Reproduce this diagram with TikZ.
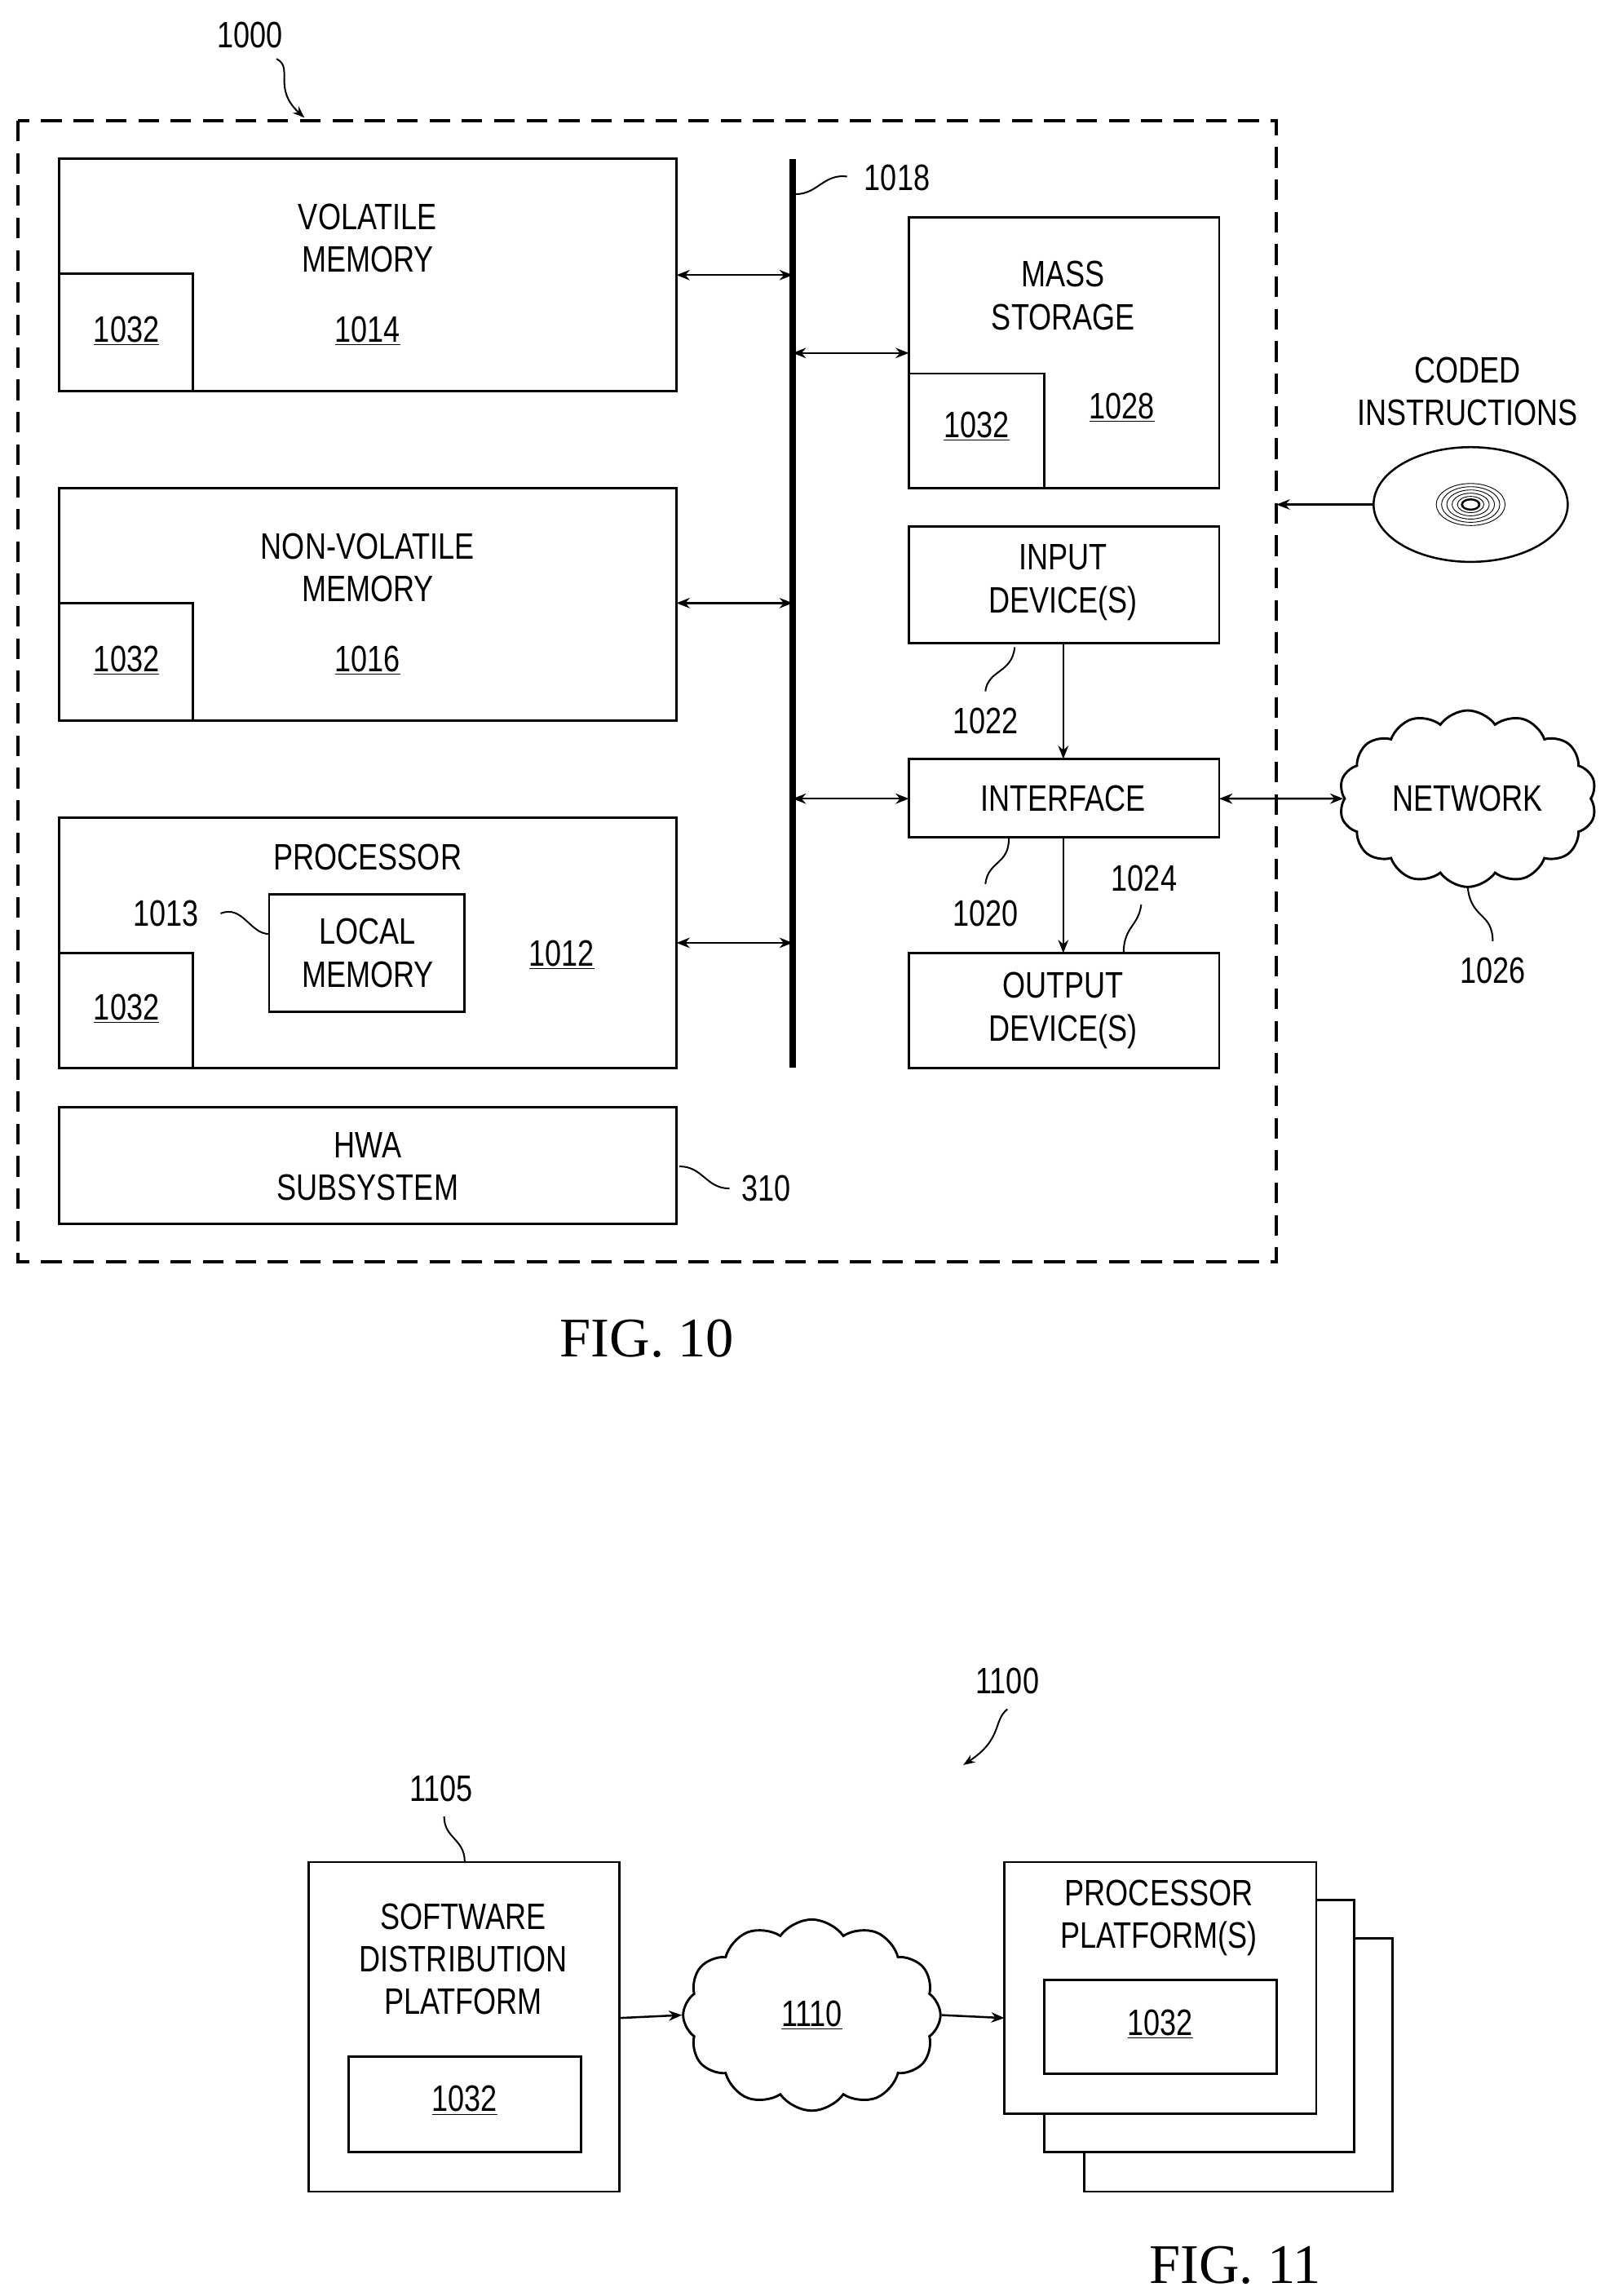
\documentclass[tikz,border=0pt]{standalone}
\usepackage{fontspec}
\setmainfont{Liberation Sans}[FakeStretch=0.8]
\newfontfamily\figfont{Liberation Serif}
\usetikzlibrary{shapes.symbols,arrows.meta}
\begin{document}
\begin{tikzpicture}[x=1pt,y=-1pt,
  box/.style={draw,line width=1.6pt},
  t/.style={font=\fontsize{25}{29}\selectfont,align=center,inner sep=0},
  dbl/.style={{Stealth[length=9pt,width=7pt]}-{Stealth[length=9pt,width=7pt]},line width=1.4pt},
  sgl/.style={-{Stealth[length=9pt,width=7pt]},line width=1.4pt},
  lead/.style={line width=1.1pt},
  fig/.style={font=\figfont\fontsize{38}{40}\selectfont}]
\useasboundingbox (0,0) rectangle (1100,1561);
% FIG 10
\draw[line width=2.2pt,dash pattern=on 14pt off 8pt] (12,82) rectangle (868,858);
\node[t] (l1000) at (170,24) {1000};
\coordinate (a1000) at (207,80);
\draw[lead,-{Stealth[length=8pt]}] (188,40) .. controls (200,46) and (185,60) .. (a1000);
% volatile
\draw[box] (40,108) rectangle (460,266);
\draw[box] (40,186) rectangle (131,266);
\node[t] (vm) at (250,162) {VOLATILE\\MEMORY};
\node[t] at (250,225) {\underline{1014}};
\node[t] at (86,225) {\underline{1032}};
% nonvolatile
\draw[box] (40,332) rectangle (460,490);
\draw[box] (40,410) rectangle (131,490);
\node[t] (nvm) at (250,386) {NON-VOLATILE\\MEMORY};
\node[t] at (250,449) {\underline{1016}};
\node[t] at (86,449) {\underline{1032}};
% processor
\draw[box] (40,556) rectangle (460,726);
\draw[box] (40,648) rectangle (131,726);
\node[t] (proc) at (250,583) {PROCESSOR};
\draw[box] (183,608) rectangle (316,688);
\node[t] (lm) at (250,648) {LOCAL\\MEMORY};
\node[t] (l1013) at (113,621) {1013};
\draw[lead] (150,621) .. controls (165,615) and (170,635) .. (183,635);
\node[t] at (382,649) {\underline{1012}};
\node[t] at (86,686) {\underline{1032}};
% HWA
\draw[box] (40,753) rectangle (460,832);
\node[t] (hwa) at (250,793) {HWA\\SUBSYSTEM};
\node[t] (l310) at (521,808) {310};
\draw[lead] (462,793) .. controls (478,793) and (480,808) .. (496,808);
% bus
\draw[line width=4pt] (539,108) -- (539,726);
\node[t] (l1018) at (610,121) {1018};
\draw[lead] (541,132) .. controls (556,132) and (560,118) .. (576,120);
\draw[dbl] (460,187) -- (539,187);
\draw[dbl] (460,410) -- (539,410);
\draw[dbl] (460,641) -- (539,641);
\draw[dbl] (539,240) -- (618,240);
\draw[dbl] (539,543) -- (618,543);
% mass storage
\draw[box] (618,148) rectangle (829,332);
\draw[box] (618,254) rectangle (710,332);
\node[t] (ms) at (723,201) {MASS\\STORAGE};
\node[t] at (664,290) {\underline{1032}};
\node[t] at (763,277) {\underline{1028}};
% input
\draw[box] (618,358) rectangle (829,437);
\node[t] (in) at (723,396) {INPUT\\DEVICE(S)};
% interface
\draw[box] (618,516) rectangle (829,569);
\node[t] (if) at (723,543) {INTERFACE};
\draw[sgl] (723,437) -- (723,516);
\node[t] (l1022) at (670,490) {1022};
\draw[lead] (670,470) .. controls (672,455) and (688,458) .. (690,440);
% output
\draw[box] (618,648) rectangle (829,726);
\node[t] (out) at (723,687) {OUTPUT\\DEVICE(S)};
\draw[sgl] (723,569) -- (723,648);
\node[t] (l1020) at (670,621) {1020};
\draw[lead] (670,601) .. controls (672,585) and (686,588) .. (686,570);
\node[t] (l1024) at (778,597) {1024};
\draw[lead] (776,615) .. controls (774,630) and (764,630) .. (764,648);
% network
\node[cloud,draw,line width=1.6pt,cloud puffs=14,cloud puff arc=110,aspect=1.5,minimum width=175pt,minimum height=120pt,t] (net) at (998,543) {NETWORK};
\draw[dbl] (829,543) -- (net.west);
\node[t] (l1026) at (1015,660) {1026};
\draw[lead] (1015,640) .. controls (1015,620) and (1000,625) .. (998,603);
% coded instructions
\node[t] (ci) at (998,266) {CODED\\INSTRUCTIONS};
\draw[line width=1.4pt] (1000,343) ellipse (66pt and 39pt);
\foreach \r in {6,10,14,18,22,26}{\draw[line width=0.5pt] (1000,343) ellipse ({\r*0.9pt} and {\r*0.55pt});}
\draw[line width=1.3pt] (1000,343) ellipse (6pt and 3.5pt);
\draw[sgl] (933,343) -- (868,343);
\node[fig] at (440,910) {FIG. 10};
% FIG 11
\node[t] (l1100) at (685,1143) {1100};
\draw[lead,-{Stealth[length=8pt]}] (685,1162) .. controls (675,1170) and (682,1182) .. (655,1200);
\draw[box] (210,1266) rectangle (421,1490);
\node[t] (sdp) at (315,1332) {SOFTWARE\\DISTRIBUTION\\PLATFORM};
\draw[box] (237,1398) rectangle (395,1463);
\node[t] at (316,1428) {\underline{1032}};
\node[t] (l1105) at (300,1216) {1105};
\draw[lead] (302,1235) .. controls (302,1250) and (316,1250) .. (316,1266);
\node[cloud,draw,line width=1.6pt,cloud puffs=12,cloud puff arc=110,aspect=1.4,minimum width=175pt,minimum height=130pt,t] (c1110) at (552,1370) {\underline{1110}};
\draw[sgl] (421,1372) -- (c1110.west);
\draw[box,fill=white] (737,1318) rectangle (947,1490);
\draw[box,fill=white] (710,1292) rectangle (921,1463);
\draw[box,fill=white] (683,1266) rectangle (895,1437);
\draw[sgl] (c1110.east) -- (683,1372);
\node[t] (pp) at (788,1304) {PROCESSOR\\PLATFORM(S)};
\draw[box] (710,1346) rectangle (868,1410);
\node[t] at (789,1376) {\underline{1032}};
\node[fig] at (840,1540) {FIG. 11};
\end{tikzpicture}
\end{document}
